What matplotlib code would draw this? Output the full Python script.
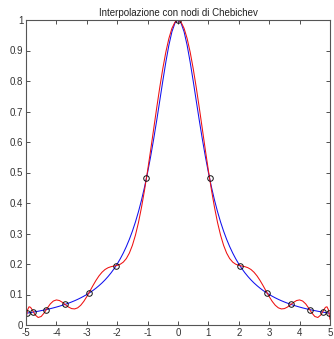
import matplotlib
matplotlib.use("Agg")
import matplotlib.pyplot as plt

# Curve samples
x_curve = [-5.0, -4.95, -4.9, -4.85, -4.8, -4.7, -4.6, -4.5, -4.4, -4.3, -4.2, -4.1, -4.0,
           -3.9, -3.8, -3.7, -3.6, -3.5, -3.4, -3.3, -3.2, -3.1, -3.0, -2.9, -2.8, -2.7,
           -2.6, -2.5, -2.4, -2.3, -2.2, -2.1, -2.0, -1.9, -1.8, -1.7, -1.6, -1.5, -1.4,
           -1.3, -1.2, -1.1, -1.0, -0.9, -0.8, -0.7, -0.6, -0.5, -0.4, -0.3, -0.2, -0.1,
           0.0, 0.1, 0.2, 0.3, 0.4, 0.5, 0.6, 0.7, 0.8, 0.9, 1.0, 1.1, 1.2, 1.3, 1.4, 1.5,
           1.6, 1.7, 1.8, 1.9, 2.0, 2.1, 2.2, 2.3, 2.4, 2.5, 2.6, 2.7, 2.8, 2.9, 3.0, 3.1,
           3.2, 3.3, 3.4, 3.5, 3.6, 3.7, 3.8, 3.9, 4.0, 4.1, 4.2, 4.3, 4.4, 4.5, 4.6, 4.7,
           4.8, 4.85, 4.9, 4.95, 5.0]

blue_y = [0.0385, 0.0392, 0.0400, 0.0408, 0.0416, 0.0433, 0.0451, 0.0471, 0.0491, 0.0513,
          0.0536, 0.0561, 0.0588, 0.0617, 0.0648, 0.0681, 0.0716, 0.0755, 0.0796, 0.0841,
          0.0890, 0.0943, 0.1, 0.1063, 0.1131, 0.1206, 0.1289, 0.1379, 0.1479, 0.1590,
          0.1712, 0.1848, 0.2, 0.2169, 0.2358, 0.2571, 0.2809, 0.3077, 0.3378, 0.3717,
          0.4098, 0.4525, 0.5, 0.5525, 0.6098, 0.6711, 0.7353, 0.8, 0.8621, 0.9174,
          0.9615, 0.9901,
          1.0,
          0.9901, 0.9615, 0.9174, 0.8621, 0.8, 0.7353, 0.6711, 0.6098, 0.5525, 0.5,
          0.4525, 0.4098, 0.3717, 0.3378, 0.3077, 0.2809, 0.2571, 0.2358, 0.2169, 0.2,
          0.1848, 0.1712, 0.1590, 0.1479, 0.1379, 0.1289, 0.1206, 0.1131, 0.1063, 0.1,
          0.0943, 0.0890, 0.0841, 0.0796, 0.0755, 0.0716, 0.0681, 0.0648, 0.0617, 0.0588,
          0.0561, 0.0536, 0.0513, 0.0491, 0.0471, 0.0451, 0.0433, 0.0416, 0.0408, 0.0400,
          0.0392, 0.0385]

red_y = [0.0189, 0.0496, 0.0597, 0.0580, 0.0505, 0.0332, 0.0246, 0.0280, 0.0399, 0.0553,
         0.0693, 0.0786, 0.0822, 0.0802, 0.0741, 0.0663, 0.0588, 0.0538, 0.0527, 0.0563,
         0.0647, 0.0773, 0.0931, 0.1108, 0.1288, 0.1459, 0.1609, 0.1730, 0.1820, 0.1878,
         0.1913, 0.1934, 0.1955, 0.1992, 0.2061, 0.2178, 0.2358, 0.2612, 0.2946, 0.3363,
         0.3861, 0.4431, 0.5062, 0.5734, 0.6429, 0.7123, 0.7790, 0.8406, 0.8948, 0.9394,
         0.9726, 0.9931,
         1.0,
         0.9931, 0.9726, 0.9394, 0.8948, 0.8406, 0.7790, 0.7123, 0.6429, 0.5734, 0.5062,
         0.4431, 0.3861, 0.3363, 0.2946, 0.2612, 0.2358, 0.2178, 0.2061, 0.1992, 0.1955,
         0.1934, 0.1913, 0.1878, 0.1820, 0.1730, 0.1609, 0.1459, 0.1288, 0.1108, 0.0931,
         0.0773, 0.0647, 0.0563, 0.0527, 0.0538, 0.0588, 0.0663, 0.0741, 0.0802, 0.0822,
         0.0786, 0.0693, 0.0553, 0.0399, 0.0280, 0.0246, 0.0332, 0.0505, 0.0580, 0.0597,
         0.0496, 0.0189]

# Interpolation nodes
x_nodes = [-4.9726, -4.7553, -4.3301, -3.7157, -2.9389, -2.0337, -1.0396, 0.0,
           1.0396, 2.0337, 2.9389, 3.7157, 4.3301, 4.7553, 4.9726]
y_nodes = [0.0389, 0.0424, 0.0506, 0.0675, 0.1038, 0.1947, 0.4806, 1.0,
           0.4806, 0.1947, 0.1038, 0.0675, 0.0506, 0.0424, 0.0389]

x_ticks = [-5, -4, -3, -2, -1, 0, 1, 2, 3, 4, 5]
y_ticks = [0, 0.1, 0.2, 0.3, 0.4, 0.5, 0.6, 0.7, 0.8, 0.9, 1]
y_tick_labels = ["0", "0.1", "0.2", "0.3", "0.4", "0.5", "0.6", "0.7", "0.8", "0.9", "1"]
title = "Interpolazione con nodi di Chebichev"

plt.rcParams['font.family'] = ['Liberation Sans', 'DejaVu Sans']

fig = plt.figure(figsize=(3.34, 3.39), dpi=100)
ax = fig.add_axes([26 / 334, 14 / 339, 304 / 334, 305 / 339])

ax.plot(x_curve, blue_y, color='#1010ee', lw=0.75)
ax.plot(x_curve, red_y, color='#ee1010', lw=0.75)
ax.plot(x_nodes, y_nodes, linestyle='none', marker='o', markersize=4,
        markerfacecolor='none', markeredgecolor='#111111', markeredgewidth=0.7)

ax.set_xlim(-5, 5)
ax.set_ylim(0, 1)
ax.set_xticks(x_ticks)
ax.set_xticklabels([str(t) for t in x_ticks])
ax.set_yticks(y_ticks)
ax.set_yticklabels(y_tick_labels)
ax.tick_params(direction='in', length=3, width=0.6, labelsize=7, colors='#333333',
               top=True, right=True, pad=2)
for s in ax.spines.values():
    s.set_color('#555555')
    s.set_linewidth(0.8)

ax.set_title(title, fontsize=7, pad=3, color='#222222')

fig.savefig("out.png", dpi=100)
